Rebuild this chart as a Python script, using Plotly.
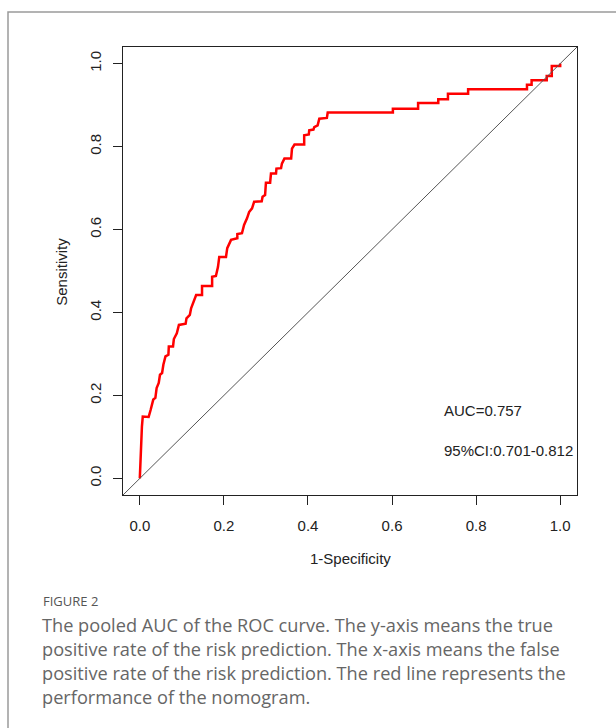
import plotly.graph_objects as go

# ROC curve vertices (1-Specificity, Sensitivity)
fpr = [0.000, 0.002, 0.005, 0.007, 0.021, 0.026, 0.032, 0.037, 0.040, 0.045,
       0.048, 0.053, 0.056, 0.061, 0.068, 0.069, 0.079, 0.081, 0.088, 0.093,
       0.109, 0.111, 0.119, 0.122, 0.129, 0.134, 0.148, 0.148, 0.172, 0.172,
       0.181, 0.186, 0.189, 0.205, 0.208, 0.217, 0.232, 0.232, 0.243, 0.248,
       0.255, 0.260, 0.267, 0.272, 0.290, 0.292, 0.298, 0.300, 0.310, 0.312,
       0.324, 0.325, 0.336, 0.338, 0.344, 0.360, 0.362, 0.368, 0.391, 0.391,
       0.402, 0.403, 0.413, 0.415, 0.423, 0.427, 0.445, 0.447, 0.602, 0.602,
       0.662, 0.662, 0.710, 0.710, 0.733, 0.733, 0.781, 0.781, 0.921, 0.921,
       0.932, 0.932, 0.968, 0.968, 0.980, 0.980, 1.000, 1.000]
tpr = [0.000, 0.077, 0.125, 0.149, 0.148, 0.166, 0.190, 0.194, 0.218, 0.230,
       0.250, 0.254, 0.274, 0.294, 0.298, 0.318, 0.318, 0.336, 0.350, 0.370,
       0.373, 0.386, 0.394, 0.410, 0.430, 0.442, 0.442, 0.464, 0.464, 0.486,
       0.488, 0.510, 0.534, 0.534, 0.555, 0.575, 0.579, 0.589, 0.591, 0.611,
       0.627, 0.642, 0.651, 0.667, 0.668, 0.679, 0.683, 0.713, 0.713, 0.735,
       0.735, 0.747, 0.748, 0.759, 0.771, 0.771, 0.795, 0.805, 0.805, 0.827,
       0.829, 0.839, 0.841, 0.847, 0.851, 0.867, 0.869, 0.882, 0.882, 0.891,
       0.891, 0.905, 0.905, 0.914, 0.914, 0.927, 0.927, 0.938, 0.938, 0.949,
       0.949, 0.960, 0.960, 0.970, 0.970, 0.994, 0.994, 1.000]

tick_vals = [0.0, 0.2, 0.4, 0.6, 0.8, 1.0]
tick_text = ["0.0", "0.2", "0.4", "0.6", "0.8", "1.0"]
x_title = "1-Specificity"
y_title = "Sensitivity"
auc_text = "AUC=0.757"
ci_text = "95%CI:0.701-0.812"
fig_label = "FIGURE 2"
caption_lines = [
    "The pooled AUC of the ROC curve. The y-axis means the true",
    "positive rate of the risk prediction. The x-axis means the false",
    "positive rate of the risk prediction. The red line represents the",
    "performance of the nomogram.",
]

W, H = 616, 728
L, R, T, B = 123, 577, 47, 495.5
pw, ph = R - L, B - T


def px(xp):
    return (xp - L) / pw


def py(yp):
    return (B - yp) / ph


AX_FONT = dict(family="Liberation Sans, Arial, sans-serif", size=15, color="#222222")

fig = go.Figure()
fig.add_trace(go.Scatter(x=fpr, y=tpr, mode="lines",
                         line=dict(color="#ff0000", width=2.5),
                         showlegend=False, hoverinfo="skip"))

fig.add_shape(type="line", xref="x", yref="y", x0=-0.04, y0=-0.04, x1=1.04, y1=1.04,
              line=dict(color="#555555", width=1))

# outer figure frame
fig.add_shape(type="rect", xref="paper", yref="paper",
              x0=px(8), x1=px(625), y0=py(740), y1=py(12),
              line=dict(color="#9a9a9a", width=1.5), layer="below")

axis_common = dict(range=[-0.04, 1.04], showgrid=False, zeroline=False,
                   showline=True, mirror=True, linecolor="#222222", linewidth=1,
                   ticks="outside", ticklen=9, tickcolor="#222222", tickwidth=1,
                   tickvals=tick_vals, ticktext=tick_text, tickfont=AX_FONT)

fig.update_layout(
    width=W, height=H,
    margin=dict(l=L, r=W - R, t=T, b=H - B),
    paper_bgcolor="white", plot_bgcolor="white",
    xaxis=dict(**axis_common, ticklabelstandoff=8),
    yaxis=dict(**axis_common, tickangle=-90, ticklabelstandoff=6),
)

ann = []
ann.append(dict(text=x_title, xref="paper", yref="paper", x=px(350), y=py(559),
                xanchor="center", yanchor="middle", showarrow=False, font=AX_FONT))
ann.append(dict(text=y_title, xref="paper", yref="paper", x=px(62), y=py(272),
                xanchor="center", yanchor="middle", showarrow=False, font=AX_FONT,
                textangle=-90))
ann.append(dict(text=auc_text, xref="paper", yref="paper", x=px(442), y=py(411),
                xanchor="left", yanchor="middle", showarrow=False, font=AX_FONT))
ann.append(dict(text=ci_text, xref="paper", yref="paper", x=px(442), y=py(451),
                xanchor="left", yanchor="middle", showarrow=False, font=AX_FONT))

CAP_FONT = dict(family="Open Sans, Lato, sans-serif", size=18.2, color="#666666")
ann.append(dict(text=fig_label, xref="paper", yref="paper", x=px(41), y=py(602),
                xanchor="left", yanchor="middle", showarrow=False,
                font=dict(family="Open Sans, sans-serif", size=13, color="#555555")))
for i, line in enumerate(caption_lines):
    ann.append(dict(text=line, xref="paper", yref="paper", x=px(40), y=py(626 + 24 * i),
                    xanchor="left", yanchor="middle", showarrow=False, font=CAP_FONT))

fig.update_layout(annotations=ann)
fig.write_html("out.html")
